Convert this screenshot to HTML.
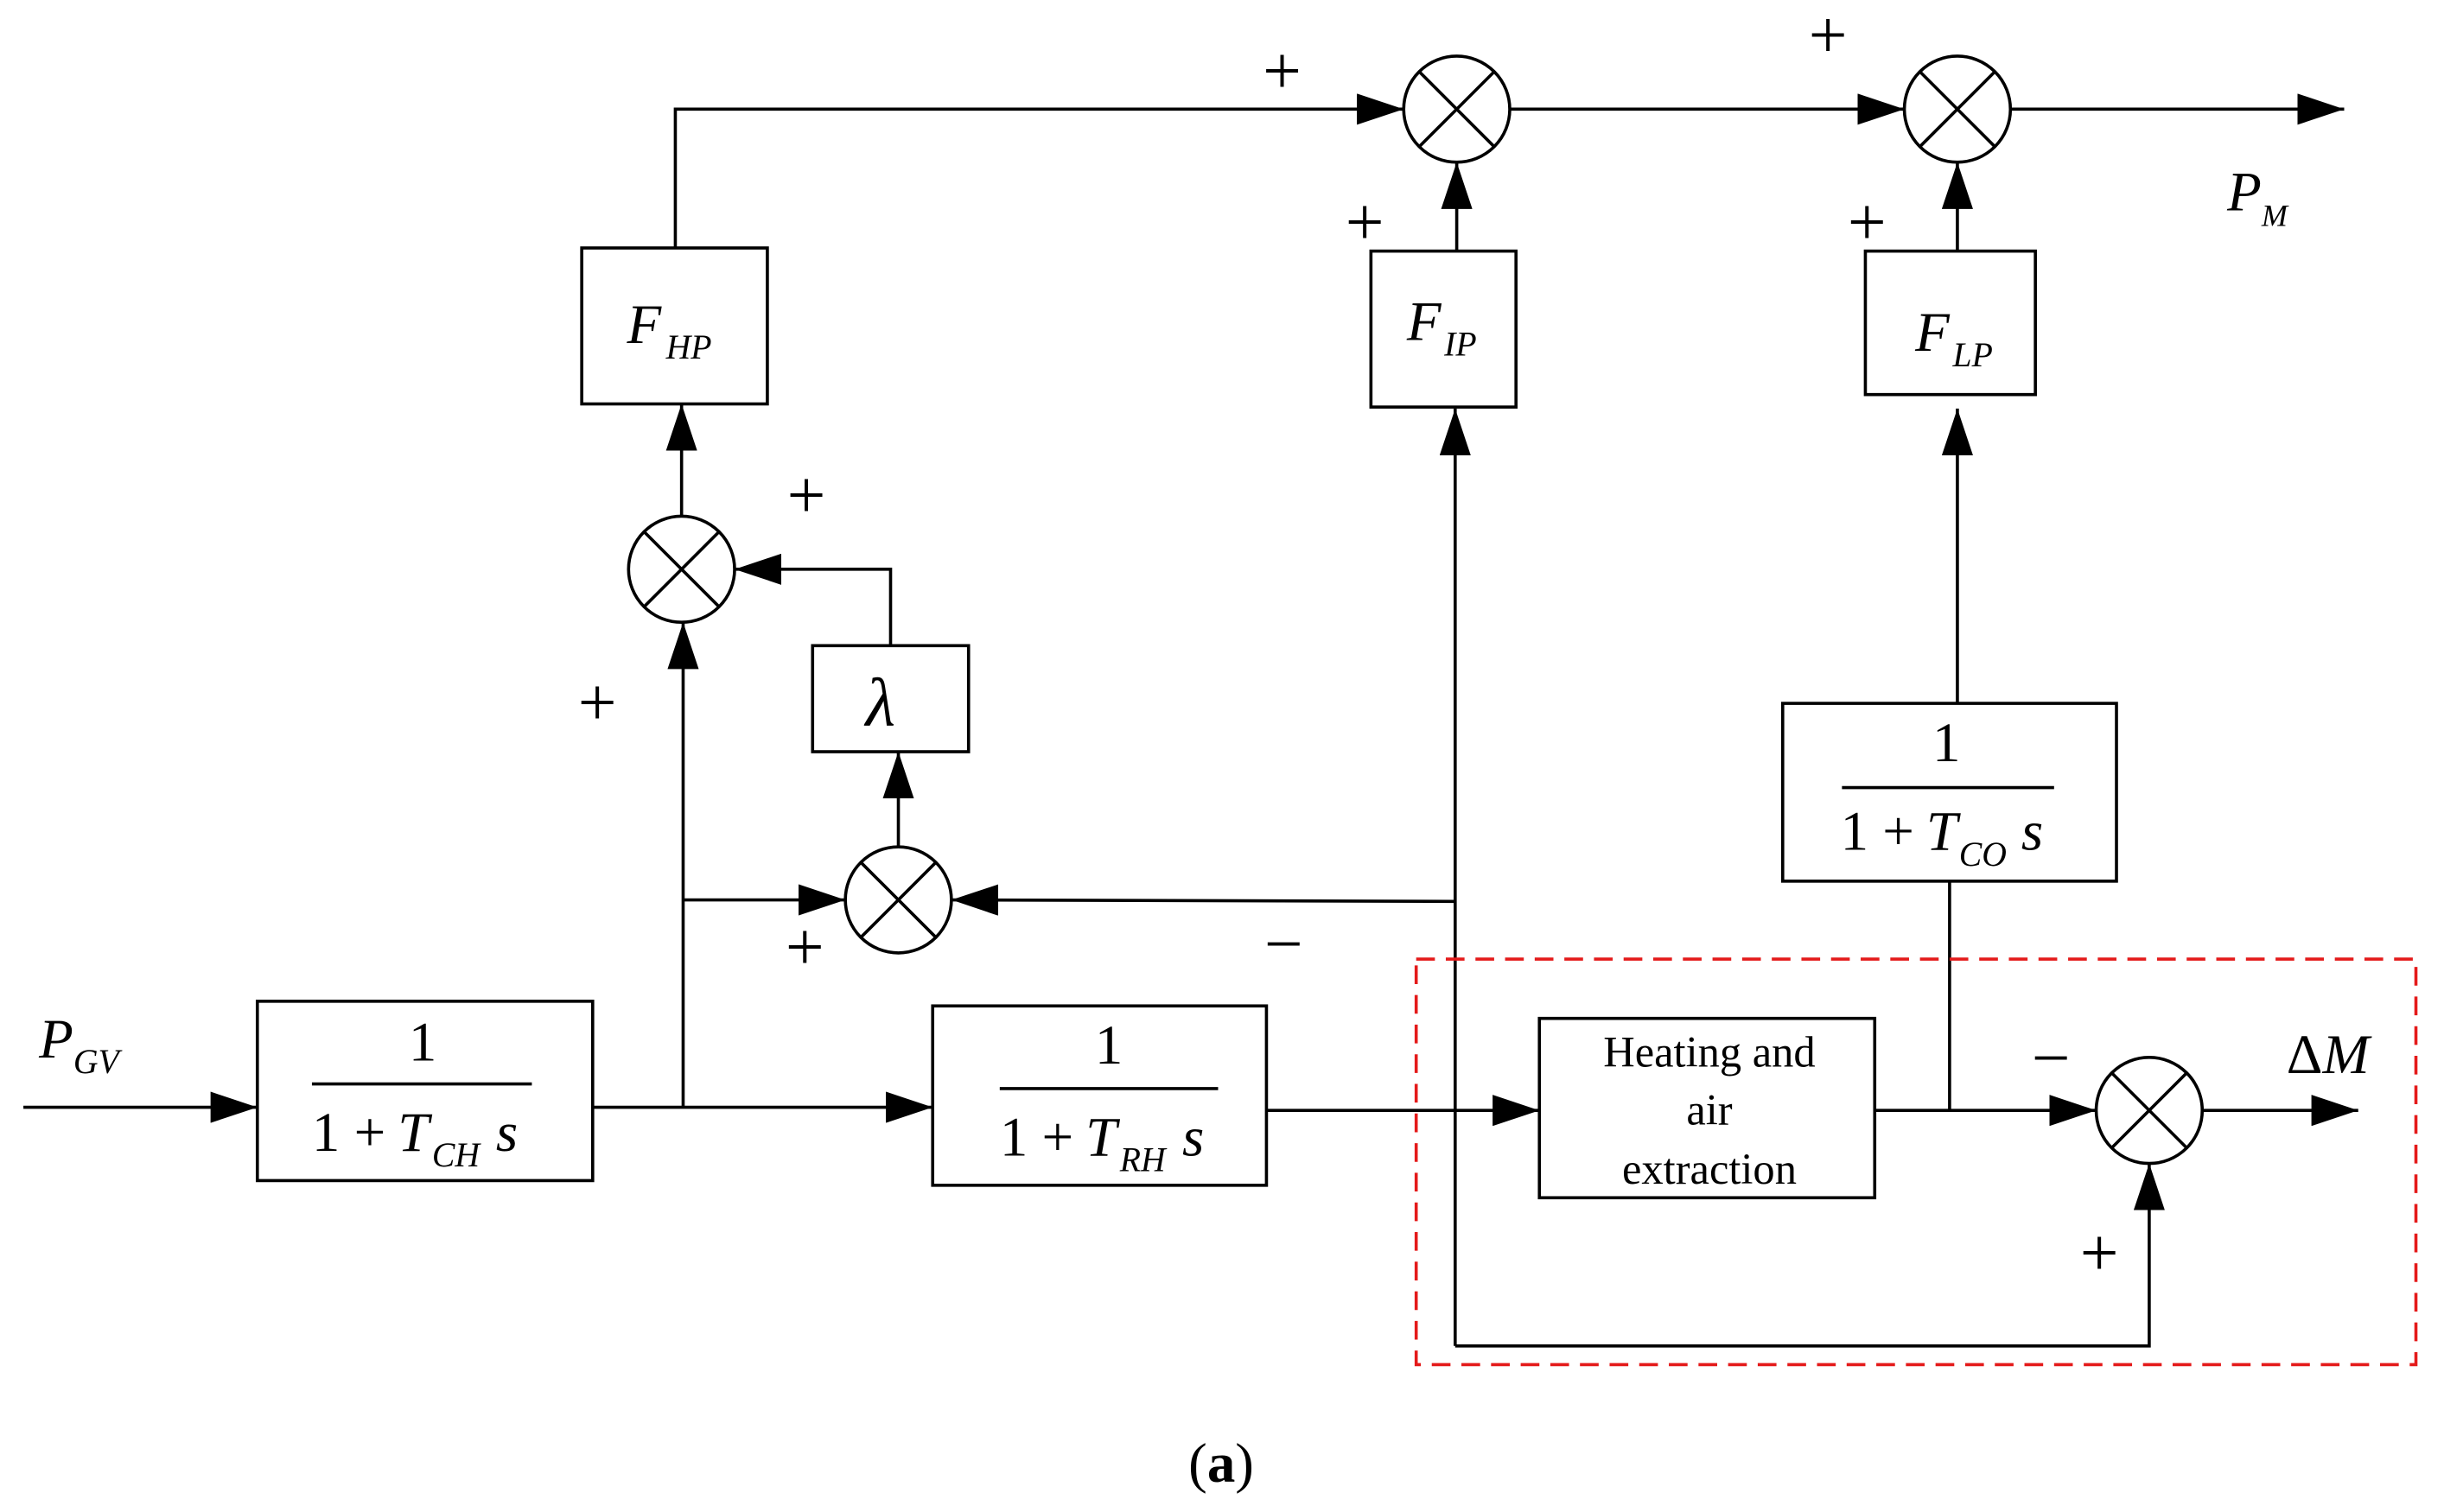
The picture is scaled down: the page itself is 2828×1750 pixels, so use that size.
<!DOCTYPE html>
<html><head><meta charset="utf-8"><style>
html,body{margin:0;padding:0;background:#fff;}
svg{display:block;}
text{font-family:"Liberation Serif",serif;fill:#000;}
.it{font-style:italic;}
</style></head><body>
<svg width="2828" height="1750" viewBox="0 0 1567 969.5" preserveAspectRatio="none" xmlns="http://www.w3.org/2000/svg">
<defs>
<marker id="a" markerWidth="30" markerHeight="20" refX="30" refY="10" orient="auto" markerUnits="userSpaceOnUse">
<path d="M0,0 L30,10 L0,20 Z" fill="#000"/></marker>
</defs>
<g stroke="#000" stroke-width="2" fill="none">
<rect x="165" y="642" width="215" height="115"/>
<rect x="598" y="645" width="214" height="115"/>
<rect x="987" y="653" width="215" height="115"/>
<rect x="1143" y="451" width="214" height="114"/>
<rect x="1196" y="161" width="109" height="92"/>
<rect x="879" y="161" width="93" height="100"/>
<rect x="373" y="159" width="119" height="100"/>
<rect x="521" y="414" width="100" height="68"/>
<line x1="200" y1="695" x2="341" y2="695"/>
<line x1="641" y1="698" x2="781" y2="698"/>
<line x1="1181" y1="505" x2="1317" y2="505"/>
<circle cx="437" cy="365" r="34"/>
<circle cx="576" cy="577" r="34"/>
<circle cx="934" cy="70" r="34"/>
<circle cx="1255" cy="70" r="34"/>
<circle cx="1378" cy="712" r="34"/>
<path d="M413,341 L461,389 M461,341 L413,389"/>
<path d="M552,553 L600,601 M600,553 L552,601"/>
<path d="M910,46 L958,94 M958,46 L910,94"/>
<path d="M1231,46 L1279,94 M1279,46 L1231,94"/>
<path d="M1354,688 L1402,736 M1402,688 L1354,736"/>
<line x1="15" y1="710" x2="165" y2="710" marker-end="url(#a)"/>
<line x1="380" y1="710" x2="598" y2="710" marker-end="url(#a)"/>
<line x1="438" y1="710" x2="438" y2="399" marker-end="url(#a)"/>
<line x1="438" y1="577" x2="542" y2="577" marker-end="url(#a)"/>
<line x1="812" y1="712" x2="987" y2="712" marker-end="url(#a)"/>
<line x1="933" y1="863" x2="933" y2="262" marker-end="url(#a)"/>
<line x1="933" y1="578" x2="610" y2="577" marker-end="url(#a)"/>
<polyline points="933,863 1378,863 1378,746" marker-end="url(#a)"/>
<line x1="1202" y1="712" x2="1344" y2="712" marker-end="url(#a)"/>
<line x1="1250" y1="712" x2="1250" y2="565"/>
<line x1="1255" y1="451" x2="1255" y2="262" marker-end="url(#a)"/>
<line x1="1255" y1="161" x2="1255" y2="104" marker-end="url(#a)"/>
<line x1="934" y1="161" x2="934" y2="104" marker-end="url(#a)"/>
<polyline points="433,159 433,70 900,70" marker-end="url(#a)"/>
<line x1="968" y1="70" x2="1221" y2="70" marker-end="url(#a)"/>
<line x1="1289" y1="70" x2="1503" y2="70" marker-end="url(#a)"/>
<line x1="576" y1="543" x2="576" y2="482" marker-end="url(#a)"/>
<polyline points="571,414 571,365 471,365" marker-end="url(#a)"/>
<line x1="437" y1="331" x2="437" y2="259" marker-end="url(#a)"/>
<line x1="1412" y1="712" x2="1512" y2="712" marker-end="url(#a)"/>
</g>
<rect x="908" y="615" width="641" height="260" fill="none" stroke="#e41a1a" stroke-width="2" stroke-dasharray="12,7"/>
<g font-size="36">
<text x="25" y="678" class="it">P</text><text x="47" y="688" font-size="22" class="it">GV</text>
<text x="262" y="680">1</text>
<text x="200" y="738">1 + </text><text x="255" y="738" class="it">T</text><text x="277" y="748" font-size="22" class="it">CH</text><text x="318" y="738" class="it">s</text>
<text x="702" y="682">1</text>
<text x="641" y="741">1 + </text><text x="696" y="741" class="it">T</text><text x="718" y="751" font-size="22" class="it">RH</text><text x="758" y="741" class="it">s</text>
<text x="1239" y="488">1</text>
<text x="1180" y="545">1 + </text><text x="1235" y="545" class="it">T</text><text x="1256" y="555" font-size="22" class="it">CO</text><text x="1296" y="545" class="it">s</text>
<text x="402" y="220" class="it">F</text><text x="427" y="230" font-size="22" class="it">HP</text>
<text x="902" y="218" class="it">F</text><text x="926" y="228" font-size="22" class="it">IP</text>
<text x="1228" y="225" class="it">F</text><text x="1252" y="235" font-size="22" class="it">LP</text>
<text x="555" y="465" class="it" font-size="44">λ</text>
<text x="1428" y="135" class="it">P</text><text x="1450" y="145" font-size="20" class="it">M</text>
<text x="1466" y="688">Δ<tspan class="it">M</tspan></text>
<text x="762" y="950" font-size="36">(<tspan font-weight="bold">a</tspan>)</text>
</g>
<g font-size="44" text-anchor="middle">
<text x="822" y="60">+</text><text x="1172" y="37">+</text>
<text x="875" y="157">+</text><text x="1197" y="157">+</text>
<text x="517" y="332">+</text><text x="383" y="465">+</text>
<text x="516" y="622">+</text><text x="823" y="620">−</text>
<text x="1315" y="693">−</text><text x="1346" y="818">+</text>
</g>
<g font-size="28" text-anchor="middle">
<text x="1096" y="684">Heating and</text>
<text x="1096" y="721">air</text>
<text x="1096" y="759">extraction</text>
</g>
</svg>
</body></html>
